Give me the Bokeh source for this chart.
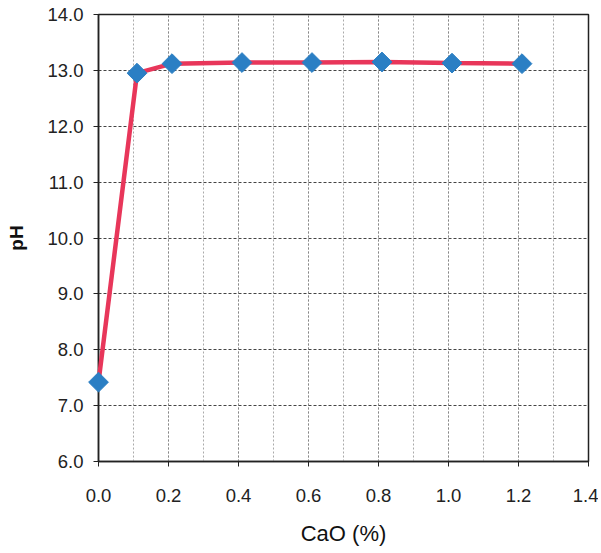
import math
from bokeh.plotting import figure
from bokeh.models import Range1d, FixedTicker, NumeralTickFormatter
from bokeh.embed import file_html
from bokeh.resources import INLINE

cao = [0.0, 0.11, 0.21, 0.41, 0.61, 0.81, 1.01, 1.21]
ph = [7.42, 12.95, 13.12, 13.14, 13.14, 13.15, 13.13, 13.12]
x_ticks = [0.0, 0.2, 0.4, 0.6, 0.8, 1.0, 1.2, 1.4]
y_ticks = [6.0, 7.0, 8.0, 9.0, 10.0, 11.0, 12.0, 13.0, 14.0]
x_minor = [round(0.1 * i, 1) for i in range(15)]

p = figure(width=598, height=548, output_backend="svg", toolbar_location=None,
           x_range=Range1d(0, 1.4), y_range=Range1d(6, 14),
           min_border_left=98, min_border_right=10, min_border_top=14, min_border_bottom=84)

p.xaxis.ticker = FixedTicker(ticks=x_ticks, minor_ticks=x_minor)
p.yaxis.ticker = FixedTicker(ticks=y_ticks)
p.xaxis.formatter = NumeralTickFormatter(format="0.0")
p.yaxis.formatter = NumeralTickFormatter(format="0.0")

font = "Liberation Sans"
for ax in (p.xaxis, p.yaxis):
    ax.major_label_text_font = font
    ax.major_label_text_font_size = "18.5px"
    ax.major_label_text_color = "#222222"
    ax.axis_label_text_font = font
    ax.axis_label_text_color = "#111111"
    ax.axis_line_color = "#222222"
    ax.axis_line_width = 1.5
    ax.major_tick_line_color = "#222222"
    ax.minor_tick_line_color = None
    ax.major_tick_out = 5
    ax.major_tick_in = 0

p.xaxis.axis_label = "CaO (%)"
p.yaxis.axis_label = "pH"
p.xaxis.axis_label_text_font_size = "22px"
p.xaxis.axis_label_text_font_style = "normal"
p.yaxis.axis_label_text_font_size = "19px"
p.yaxis.axis_label_text_font_style = "bold"
p.xaxis.major_label_standoff = 22
p.xaxis.axis_label_standoff = 16
p.yaxis.major_label_standoff = 10
p.yaxis.axis_label_standoff = 17

p.xgrid.grid_line_color = "#888888"
p.xgrid.grid_line_dash = "2 2"
p.xgrid.grid_line_width = 1
p.xgrid.minor_grid_line_color = "#aaaaaa"
p.xgrid.minor_grid_line_dash = "2 2"
p.ygrid.grid_line_color = "#444444"
p.ygrid.grid_line_dash = "3 2"
p.ygrid.grid_line_width = 1

p.outline_line_color = "#222222"
p.outline_line_width = 1.5
p.background_fill_color = "white"
p.border_fill_color = "white"

p.line(cao, ph, line_color="#e8365a", line_width=4.5, level="overlay")
p.scatter(cao, ph, marker="square", angle=math.pi / 4, size=14,
          fill_color="#2b7fc4", line_color="#2b7fc4", level="overlay")

open("out.html", "w").write(file_html(p, INLINE))
